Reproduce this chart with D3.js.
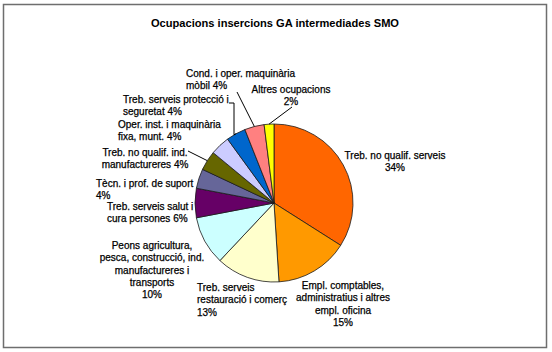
<!DOCTYPE html>
<html>
<head>
<meta charset="utf-8">
<script src="https://cdn.jsdelivr.net/npm/d3@7/dist/d3.min.js"></script>
<style>
  html, body { margin: 0; padding: 0; background: #fff; }
  svg { display: block; font-family: "Liberation Sans", Arial, sans-serif; }
</style>
</head>
<body>
<script>
// data (percent of insertions)
const categories = [
  "Treb. no qualif. serveis",
  "Empl. comptables, administratius i altres empl. oficina",
  "Treb. serveis restauració i comerç",
  "Peons agricultura, pesca, construcció, ind. manufactureres i transports",
  "Treb. serveis salut i cura persones",
  "Tècn. i prof. de suport",
  "Treb. no qualif. ind. manufactureres",
  "Oper. inst. i maquinària fixa, munt.",
  "Treb. serveis protecció i seguretat",
  "Cond. i oper. maquinària mòbil",
  "Altres ocupacions"
];
const values = [34, 15, 13, 10, 6, 4, 4, 4, 4, 4, 2];
const colors = ["#FF6600", "#FF9900", "#FFFFCC", "#CCFFFF", "#660066", "#666699",
                "#666600", "#CCCCFF", "#0066CC", "#FF8080", "#FFFF00"];

// how the label text wraps, as Excel laid it out
const labelLines = [
  ["Treb. no qualif. serveis", "34%"],
  ["Empl. comptables,", "administratius i altres", "empl. oficina", "15%"],
  ["Treb. serveis", "restauració i comerç", "13%"],
  ["Peons agricultura,", "pesca, construcció, ind.", "manufactureres i", "transports", "10%"],
  ["Treb. serveis salut i", "cura persones 6%"],
  ["Tècn. i prof. de suport", "4%"],
  ["Treb. no qualif. ind.", "manufactureres 4%"],
  ["Oper. inst. i maquinària", "fixa, munt. 4%"],
  ["Treb. serveis protecció i", "seguretat 4%"],
  ["Cond. i oper. maquinària", "mòbil 4%"],
  ["Altres ocupacions", "2%"]
];

// label placement: x, first baseline, anchor, leader polyline start points (or null)
const labelPos = [
  { x: 395, y: 159, anchor: "middle", leader: null },
  { x: 343, y: 289, anchor: "middle", leader: null },
  { x: 197, y: 291, anchor: "start",  leader: null },
  { x: 152, y: 249, anchor: "middle", leader: null },
  { x: 107, y: 210, anchor: "start",  leader: null },
  { x: 96,  y: 187, anchor: "start",  leader: null },
  { x: 145, y: 156, anchor: "middle", leader: [[188, 151]] },
  { x: 118, y: 128, anchor: "start",  leader: null },
  { x: 123, y: 103, anchor: "start",  leader: [[229, 103], [234, 103]] },
  { x: 186, y: 77,  anchor: "start",  leader: [[237, 92]] },
  { x: 291, y: 93,  anchor: "middle", leader: [[292, 107]] }
];

const width = 552, height = 352;
const cx = 274, cy = 203, radius = 79;
const lineH = 12.3;

const svg = d3.select("body").append("svg")
    .attr("width", width)
    .attr("height", height);

// chart area frame
svg.append("rect")
    .attr("x", 3.5).attr("y", 4.5)
    .attr("width", 543).attr("height", 343)
    .attr("fill", "#fff")
    .attr("stroke", "#6e6e6e")
    .attr("stroke-width", 1.5);

svg.append("text")
    .attr("x", 275)
    .attr("y", 27)
    .attr("text-anchor", "middle")
    .attr("font-size", 11.1)
    .attr("font-weight", "bold")
    .text("Ocupacions insercions GA intermediades SMO");

const pie = d3.pie().sort(null).value(d => d)(values);
const arc = d3.arc().innerRadius(0).outerRadius(radius);

const g = svg.append("g").attr("transform", `translate(${cx},${cy})`);

g.selectAll("path.slice")
    .data(pie)
    .join("path")
    .attr("class", "slice")
    .attr("d", arc)
    .attr("fill", (d, i) => colors[i])
    .attr("stroke", "#1a1a1a")
    .attr("stroke-width", 0.8);

// leader lines go from the label to the middle of the slice rim
const edge = d => {
  const a = (d.startAngle + d.endAngle) / 2;
  return [cx + radius * Math.sin(a), cy - radius * Math.cos(a)];
};

pie.forEach((d, i) => {
  const p = labelPos[i];
  if (!p.leader) return;
  const pts = p.leader.slice();
  const e = edge(d);
  if (i === 8) pts.push([pts[pts.length - 1][0], e[1] + 1]);
  pts.push(e);
  svg.append("path")
      .attr("d", d3.line()(pts))
      .attr("fill", "none")
      .attr("stroke", "#000")
      .attr("stroke-width", 1);
});

// the scanned labels look heavier than plain Arial, a hairline stroke evens that out
const labels = svg.append("g")
    .attr("font-size", 10)
    .attr("fill", "#000")
    .attr("stroke", "#000")
    .attr("stroke-width", 0.25);

labelLines.forEach((lines, i) => {
  const p = labelPos[i];
  const t = labels.append("text")
      .attr("text-anchor", p.anchor);
  lines.forEach((s, k) => {
    t.append("tspan")
        .attr("x", p.x)
        .attr("y", p.y + k * lineH)
        .text(s);
  });
});
</script>
</body>
</html>
